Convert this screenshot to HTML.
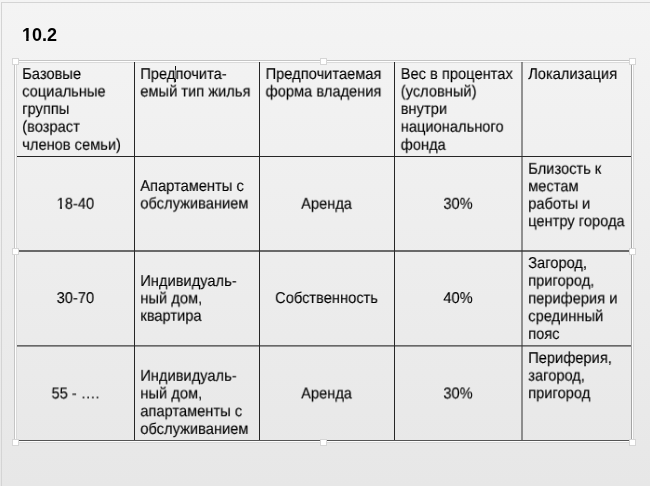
<!DOCTYPE html>
<html><head><meta charset="utf-8">
<style>
html,body{margin:0;padding:0;}
body{width:650px;height:486px;overflow:hidden;position:relative;background:linear-gradient(#f4f4f4,#e7e7e7);font-family:"Liberation Sans",sans-serif;}
#slide{position:absolute;left:1px;top:2px;width:660px;height:500px;border-left:1px solid #d4d4d4;border-top:1px solid #d4d4d4;}
.t{position:absolute;left:0;top:0;font-size:15.75px;line-height:17.5px;color:#000;white-space:nowrap;transform-origin:0 0;text-rendering:geometricPrecision;will-change:transform;-webkit-text-stroke:0.12px #000;}
.c{text-align:center;transform-origin:50% 0;}
#title{position:absolute;left:21.7px;top:25px;font-size:18px;line-height:21px;font-weight:bold;color:#000;will-change:transform;}
.hd{position:absolute;width:5px;height:5px;background:#fff;border:1px solid #d6d6d6;}
.one{display:inline-block;line-height:1em;clip-path:polygon(0 0,100% 0,100% 0.64em,0.36em 0.64em,0.36em 110%,0.22em 110%,0.22em 0.64em,0 0.64em);}
.oneb{display:inline-block;line-height:1em;clip-path:polygon(0 0,100% 0,100% 0.70em,0.367em 0.70em,0.367em 110%,0.233em 110%,0.233em 0.70em,0 0.70em);}
</style></head><body>
<div id="slide"></div>
<div id="title"><span class="oneb">1</span>0.2</div>

<svg width="650" height="486" style="position:absolute;left:0;top:0">
<g shape-rendering="crispEdges">
<rect x="14" y="60" width="620" height="1" fill="#c4c4c4"/>
<rect x="14" y="61" width="620" height="1" fill="#ffffff"/>
<rect x="14" y="62" width="620" height="1" fill="#dadada"/>
<rect x="14" y="440" width="620" height="1" fill="#c4c4c4"/>
<rect x="14" y="441" width="620" height="1" fill="#ffffff"/>
<rect x="14" y="442" width="620" height="1" fill="#dadada"/>
<rect x="14" y="62" width="1" height="378" fill="#c4c4c4"/>
<rect x="15" y="62" width="1" height="379" fill="#ffffff"/>
<rect x="16" y="63" width="1" height="377" fill="#dadada"/>
<rect x="631" y="62" width="1" height="378" fill="#a4a4a4"/>
<rect x="632" y="62" width="1" height="379" fill="#ffffff"/>
<rect x="633" y="62" width="1" height="380" fill="#dadada"/>
</g>
<g stroke="#262626">
<line x1="17" y1="156.5" x2="631" y2="156.5" stroke-width="1"/>
<line x1="17" y1="251" x2="631" y2="251" stroke-width="1.3" stroke="#3c3c3c"/>
<line x1="17" y1="345.9" x2="631" y2="345.9" stroke-width="1.3" stroke="#3c3c3c"/>
<line x1="17" y1="440.5" x2="631" y2="440.5" stroke-width="1" stroke="#555"/>
<line x1="134.5" y1="62" x2="134.5" y2="440" stroke-width="1"/>
<line x1="259.5" y1="62" x2="259.5" y2="440" stroke-width="1"/>
<line x1="394.5" y1="62" x2="394.5" y2="440" stroke-width="1"/>
<line x1="522" y1="62" x2="522" y2="440" stroke-width="1" stroke="#333"/>
</g>
</svg>

<div class="t" style="transform:translate(22.2px,66px) scaleX(0.9314)">Базовые</div>
<div class="t" style="transform:translate(22.2px,83.5px) scaleX(0.9314)">социальные</div>
<div class="t" style="transform:translate(22.2px,100.9px) scaleX(0.9314)">группы</div>
<div class="t" style="transform:translate(22.2px,118.7px) scaleX(0.9314)">(возраст</div>
<div class="t" style="transform:translate(22.2px,136.8px) scaleX(0.9314)">членов семьи)</div>

<div class="t" style="transform:translate(140.3px,66px) scaleX(0.9314)">Предпочита-</div>
<div class="t" style="transform:translate(140.3px,83.5px) scaleX(0.9314)">емый тип жилья</div>

<div class="t" style="transform:translate(265.6px,66px) scaleX(0.9314)">Предпочитаемая</div>
<div class="t" style="transform:translate(265.6px,83.5px) scaleX(0.9314)">форма владения</div>

<div class="t" style="transform:translate(400.7px,66px) scaleX(0.9314)">Вес в процентах</div>
<div class="t" style="transform:translate(400.7px,83.5px) scaleX(0.9314)">(условный)</div>
<div class="t" style="transform:translate(400.7px,100.9px) scaleX(0.9314)">внутри</div>
<div class="t" style="transform:translate(400.7px,118.7px) scaleX(0.9314)">национального</div>
<div class="t" style="transform:translate(400.7px,136.8px) scaleX(0.9314)">фонда</div>

<div class="t" style="transform:translate(528.2px,66px) scaleX(0.9314)">Локализация</div>

<div class="t" style="transform:translate(140.3px,178px) scaleX(0.9314)">Апартаменты с</div>
<div class="t" style="transform:translate(140.3px,195.5px) scaleX(0.9314)">обслуживанием</div>

<div class="t" style="transform:translate(528.2px,160.8px) scaleX(0.9314)">Близость к</div>
<div class="t" style="transform:translate(528.2px,178.3px) scaleX(0.9314)">местам</div>
<div class="t" style="transform:translate(528.2px,195.7px) scaleX(0.9314)">работы и</div>
<div class="t" style="transform:translate(528.2px,213.2px) scaleX(0.9314)">центру города</div>

<div class="t" style="transform:translate(140.3px,273px) scaleX(0.9314)">Индивидуаль-</div>
<div class="t" style="transform:translate(140.3px,290.4px) scaleX(0.9314)">ный дом,</div>
<div class="t" style="transform:translate(140.3px,307.8px) scaleX(0.9314)">квартира</div>

<div class="t" style="transform:translate(528.2px,255px) scaleX(0.9314)">Загород,</div>
<div class="t" style="transform:translate(528.2px,272.7px) scaleX(0.9314)">пригород,</div>
<div class="t" style="transform:translate(528.2px,290.45px) scaleX(0.9314)">периферия и</div>
<div class="t" style="transform:translate(528.2px,308.2px) scaleX(0.9314)">срединный</div>
<div class="t" style="transform:translate(528.2px,325.9px) scaleX(0.9314)">пояс</div>

<div class="t" style="transform:translate(140.3px,367.8px) scaleX(0.9314)">Индивидуаль-</div>
<div class="t" style="transform:translate(140.3px,385.5px) scaleX(0.9314)">ный дом,</div>
<div class="t" style="transform:translate(140.3px,403.2px) scaleX(0.9314)">апартаменты с</div>
<div class="t" style="transform:translate(140.3px,420.9px) scaleX(0.9314)">обслуживанием</div>

<div class="t" style="transform:translate(528.2px,350px) scaleX(0.9314)">Периферия,</div>
<div class="t" style="transform:translate(528.2px,367.6px) scaleX(0.9314)">загород,</div>
<div class="t" style="transform:translate(528.2px,385.2px) scaleX(0.9314)">пригород</div>

<div class="t c" style="width:117px;transform:translate(17px,195.7px) scaleX(0.9314)"><span class="one">1</span>8-40</div>
<div class="t c" style="width:135px;transform:translate(259px,195.7px) scaleX(0.9314)">Аренда</div>
<div class="t c" style="width:128px;transform:translate(394px,195.7px) scaleX(0.9314)">30%</div>
<div class="t c" style="width:117px;transform:translate(17px,290px) scaleX(0.9314)">30-70</div>
<div class="t c" style="width:135px;transform:translate(259px,290px) scaleX(0.9314)">Собственность</div>
<div class="t c" style="width:128px;transform:translate(394px,290px) scaleX(0.9314)">40%</div>
<div class="t c" style="width:117px;transform:translate(17px,385.4px) scaleX(0.9314)">55 - ….</div>
<div class="t c" style="width:135px;transform:translate(259px,385.4px) scaleX(0.9314)">Аренда</div>
<div class="t c" style="width:128px;transform:translate(394px,385.4px) scaleX(0.9314)">30%</div>

<div style="position:absolute;left:175px;top:66px;width:1px;height:16px;background:linear-gradient(#111 0,#111 4px,#8a8a8a 4px,#8a8a8a 13px,#111 13px);"></div>

<div class="hd" style="left:12px;top:58px;"></div>
<div class="hd" style="left:320px;top:58px;"></div>
<div class="hd" style="left:629px;top:58px;"></div>
<div class="hd" style="left:12px;top:248px;"></div>
<div class="hd" style="left:629px;top:248px;"></div>
<div class="hd" style="left:12px;top:439px;"></div>
<div class="hd" style="left:320px;top:439px;"></div>
<div class="hd" style="left:629px;top:439px;"></div>
</body></html>
